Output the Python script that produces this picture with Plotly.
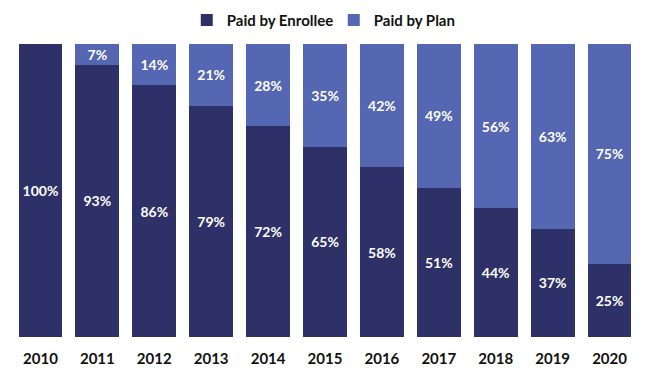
import plotly.graph_objects as go

years = ["2010", "2011", "2012", "2013", "2014", "2015", "2016", "2017", "2018", "2019", "2020"]
paid_by_enrollee = [100, 93, 86, 79, 72, 65, 58, 51, 44, 37, 25]
paid_by_plan = [0, 7, 14, 21, 28, 35, 42, 49, 56, 63, 75]

dark = "#2E3168"
light = "#5566B2"
font_family = "Lato, 'Open Sans', sans-serif"

def labels(vals):
    return [f"<b>{v}%</b>" if v > 0 else "" for v in vals]

fig = go.Figure()
fig.add_trace(go.Bar(
    x=years, y=paid_by_enrollee, name="<b>Paid by Enrollee</b>",
    marker=dict(color=dark, line=dict(width=0)),
    text=labels(paid_by_enrollee), textposition="inside", insidetextanchor="middle",
    textfont=dict(color="white", size=14, family=font_family),
    hoverinfo="skip",
))
fig.add_trace(go.Bar(
    x=years, y=paid_by_plan, name="<b>Paid by Plan</b>",
    marker=dict(color=light, line=dict(width=0)),
    text=labels(paid_by_plan), textposition="inside", insidetextanchor="middle",
    textfont=dict(color="white", size=14, family=font_family),
    hoverinfo="skip",
))

fig.update_layout(
    width=650, height=375,
    barmode="stack", bargap=0.23,
    margin=dict(l=12, r=12, t=44, b=38, autoexpand=False),
    paper_bgcolor="white", plot_bgcolor="white",
    font=dict(family=font_family, color="#111111"),
    uniformtext=dict(minsize=14, mode="show"),
    legend=dict(orientation="h", x=0.514, xanchor="center",
                yref="container", y=0.99, yanchor="top",
                font=dict(size=15, color="#111111"), itemwidth=30,
                entrywidth=102, entrywidthmode="pixels",
                traceorder="normal"),
    xaxis=dict(showgrid=False, showline=False, ticks="",
               tickfont=dict(size=15, color="#111111"),
               ticklabelstandoff=11,
               tickprefix="<b>", ticksuffix="</b>"),
    yaxis=dict(range=[0, 100], visible=False, showgrid=False),
)

fig.write_html("out.html", config={"displayModeBar": False},
               post_script="document.body.style.margin='0';")
